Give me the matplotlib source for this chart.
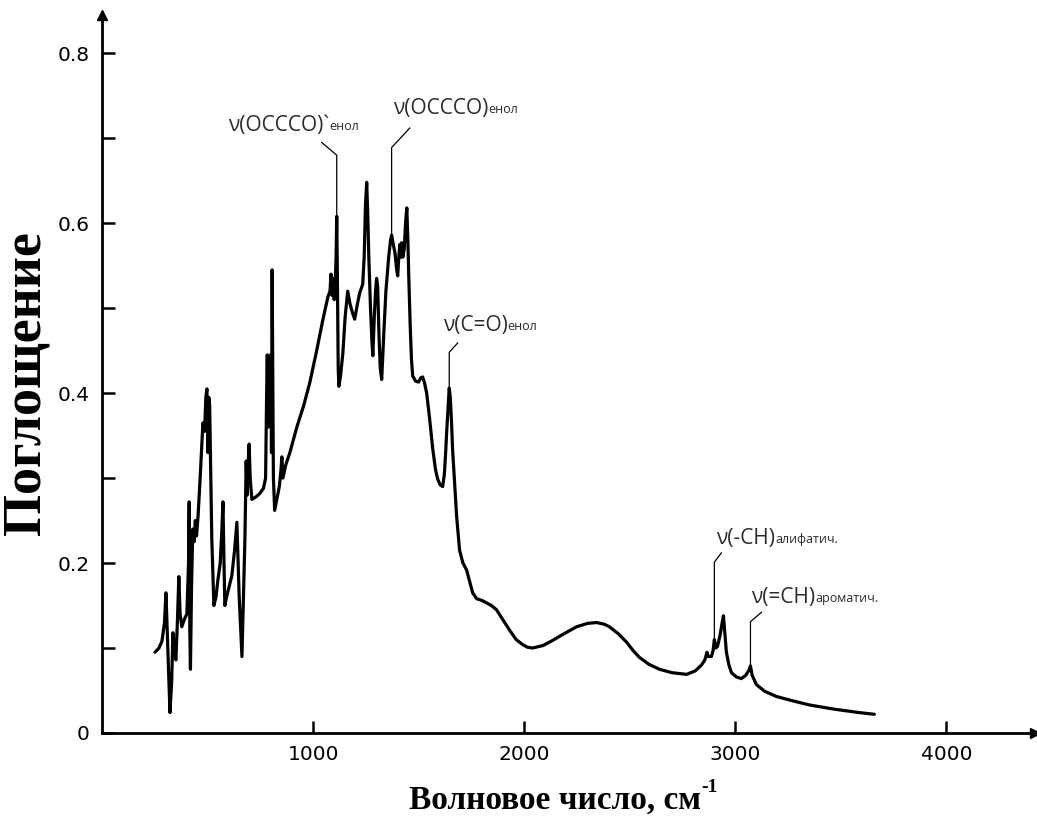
import numpy as np
import matplotlib
matplotlib.use("Agg")
import matplotlib.pyplot as plt
from matplotlib.ticker import FixedLocator, FuncFormatter

# -------------------------------------------------
# IR spectrum
# -------------------------------------------------

wavenumber = [
    251, 270, 284, 296, 303, 312, 322, 330, 336, 343, 350, 357, 364, 370, 378,
    392, 402, 410, 413, 416, 419, 424, 430, 436, 442, 448, 455, 465, 478, 486,
    492, 497, 502, 506, 510, 514, 520, 530, 540, 549, 560, 568, 573, 578, 582,
    590, 600, 615, 628, 639, 650, 663, 670, 677, 683, 688, 693, 697, 702, 710,
    730, 748, 765, 775, 780, 783, 787, 790, 795, 799, 803, 806, 809, 812, 818,
    828, 840, 848, 852, 857, 870, 890, 923, 955, 984, 1017, 1046, 1070, 1080,
    1085, 1090, 1095, 1100, 1105, 1109, 1112, 1115, 1119, 1122, 1130, 1141,
    1152, 1164, 1175, 1186, 1197, 1210, 1221, 1235, 1242, 1248, 1254, 1259,
    1264, 1272, 1279, 1283, 1290, 1296, 1301, 1306, 1312, 1318, 1325, 1335,
    1345, 1358, 1367, 1372, 1380, 1388, 1396, 1401, 1406, 1411, 1416, 1420,
    1425, 1432, 1438, 1444, 1449, 1453, 1460, 1466, 1472, 1486, 1500, 1510,
    1519, 1528, 1538, 1552, 1567, 1580, 1590, 1602, 1614, 1622, 1628, 1633,
    1640, 1645, 1650, 1656, 1661, 1670, 1680, 1694, 1710, 1727, 1742, 1756,
    1775, 1800, 1822, 1845, 1869, 1900, 1931, 1962, 1993, 2015, 2040, 2090,
    2135, 2190, 2248, 2300, 2343, 2380, 2404, 2445, 2485, 2516, 2546, 2590,
    2641, 2700, 2769, 2810, 2840, 2856, 2866, 2872, 2887, 2895, 2901, 2908,
    2916, 2928, 2938, 2944, 2950, 2958, 2970, 2982, 3005, 3029, 3050, 3065,
    3072, 3080, 3100, 3140, 3195, 3270, 3351, 3470, 3588, 3659,
]

absorbance = [
    0.095, 0.100, 0.108, 0.130, 0.165, 0.100, 0.024, 0.060, 0.118, 0.095, 0.086,
    0.130, 0.184, 0.140, 0.125, 0.135, 0.140, 0.200, 0.272, 0.120, 0.075, 0.170,
    0.240, 0.225, 0.250, 0.232, 0.255, 0.300, 0.365, 0.355, 0.395, 0.405, 0.330,
    0.395, 0.385, 0.320, 0.230, 0.150, 0.160, 0.180, 0.200, 0.240, 0.272, 0.200,
    0.150, 0.160, 0.170, 0.185, 0.215, 0.248, 0.160, 0.090, 0.160, 0.228, 0.320,
    0.280, 0.320, 0.340, 0.300, 0.275, 0.278, 0.282, 0.288, 0.300, 0.400, 0.445,
    0.360, 0.440, 0.400, 0.445, 0.330, 0.545, 0.420, 0.300, 0.262, 0.275, 0.290,
    0.310, 0.325, 0.300, 0.315, 0.330, 0.360, 0.385, 0.412, 0.450, 0.486, 0.513,
    0.520, 0.540, 0.515, 0.535, 0.510, 0.530, 0.560, 0.608, 0.540, 0.430, 0.408,
    0.420, 0.447, 0.490, 0.520, 0.505, 0.495, 0.487, 0.505, 0.518, 0.528, 0.560,
    0.620, 0.648, 0.610, 0.560, 0.500, 0.460, 0.444, 0.490, 0.520, 0.535, 0.525,
    0.470, 0.430, 0.416, 0.470, 0.520, 0.560, 0.580, 0.586, 0.575, 0.565, 0.545,
    0.538, 0.560, 0.575, 0.560, 0.577, 0.560, 0.570, 0.600, 0.618, 0.580, 0.540,
    0.480, 0.440, 0.420, 0.414, 0.413, 0.418, 0.419, 0.412, 0.400, 0.370, 0.334,
    0.310, 0.299, 0.292, 0.290, 0.305, 0.330, 0.355, 0.385, 0.406, 0.395, 0.365,
    0.333, 0.295, 0.255, 0.215, 0.200, 0.192, 0.178, 0.165, 0.158, 0.156, 0.153,
    0.150, 0.145, 0.133, 0.121, 0.110, 0.104, 0.101, 0.100, 0.103, 0.109, 0.117,
    0.125, 0.129, 0.130, 0.128, 0.125, 0.117, 0.107, 0.097, 0.089, 0.081, 0.075,
    0.071, 0.069, 0.073, 0.080, 0.086, 0.095, 0.090, 0.090, 0.097, 0.110, 0.100,
    0.102, 0.115, 0.130, 0.138, 0.120, 0.095, 0.080, 0.071, 0.066, 0.064, 0.068,
    0.074, 0.079, 0.068, 0.057, 0.049, 0.043, 0.038, 0.033, 0.028, 0.024, 0.022,
]

x_ticks = [1000, 2000, 3000, 4000]
y_major = [0, 0.2, 0.4, 0.6, 0.8]
y_minor = [0.1, 0.3, 0.5, 0.7]

# peak labels: (main text, subscript, peak wavenumber)
peak_labels = [
    ("ν(OCCCO)`", "енол", 1112),
    ("ν(OCCCO)", "енол", 1372),
    ("ν(C=O)", "енол", 1645),
    ("ν(-CH)", "алифатич.", 2901),
    ("ν(=CH)", "ароматич.", 3072),
]

# -------------------------------------------------
# Figure
# -------------------------------------------------

fig = plt.figure(figsize=(10.37, 8.19), dpi=100)
ax = fig.add_axes([102 / 1037, 86 / 819, 933 / 1037, 718 / 819])

ax.plot(wavenumber, absorbance, color="black", lw=2.3,
        solid_joinstyle="round", solid_capstyle="round")

ax.set_xlim(0, 4420)
ax.set_ylim(0, 0.845)

for side in ["top", "right"]:
    ax.spines[side].set_visible(False)
for side in ["left", "bottom"]:
    ax.spines[side].set_linewidth(2.0)

# arrow heads at the axis ends
ax.plot(1, 0, ">k", ms=7, transform=ax.get_yaxis_transform(), clip_on=False)
ax.plot(0, 1, "^k", ms=7, transform=ax.get_xaxis_transform(), clip_on=False)

ax.xaxis.set_major_locator(FixedLocator(x_ticks))
ax.yaxis.set_major_locator(FixedLocator(y_major))
ax.yaxis.set_minor_locator(FixedLocator(y_minor))
ax.yaxis.set_major_formatter(FuncFormatter(lambda v, pos: "0" if v == 0 else f"{v:.1f}"))

ax.tick_params(axis="both", which="both", direction="in", length=9, width=1.8,
               labelsize=14.5, pad=9, colors="black")
ax.tick_params(axis="y", which="minor", length=9)

fig.text(27 / 1037, 1 - 383 / 819, "Поглощение", rotation=90, ha="center", va="center",
         fontsize=39, fontweight="bold", family="Liberation Serif")

xl = fig.text(555 / 1037, 1 - 800 / 819, "Волновое число, см", ha="center", va="center",
              fontsize=24, fontweight="bold", family="Liberation Serif")
ax.annotate("-1", xy=(1.0, 0.62), xycoords=xl, ha="left", va="bottom",
            fontsize=14, fontweight="bold", family="Liberation Serif")

# -------------------------------------------------
# Peak annotations
# -------------------------------------------------

# (text x, text y, top of vertical leader, end of slanted leader)
label_pos = [
    (596, 0.715, 0.680, (1041, 0.695)),
    (1377, 0.735, 0.689, (1458, 0.712)),
    (1614, 0.480, 0.448, (1685, 0.459)),
    (2911, 0.229, 0.201, (2934, 0.212)),
    (3077, 0.160, 0.131, (3124, 0.142)),
]

wn = np.array(wavenumber)
ab = np.array(absorbance)

for (main, sub, peak), (tx, ty, ytop, (ex, ey)) in zip(peak_labels, label_pos):
    y_peak = ab[np.argmin(np.abs(wn - peak))]
    ax.plot([peak, peak, ex], [y_peak, ytop, ey], color="black", lw=0.9)
    t = ax.text(tx, ty, main, ha="left", va="center", fontsize=15,
                family="Open Sans", color="#2b2b2b")
    ax.annotate(sub, xy=(1.0, 0.12), xycoords=t, ha="left", va="bottom",
                fontsize=9, family="Open Sans", color="#2b2b2b")

fig.savefig("out.png", dpi=100)
